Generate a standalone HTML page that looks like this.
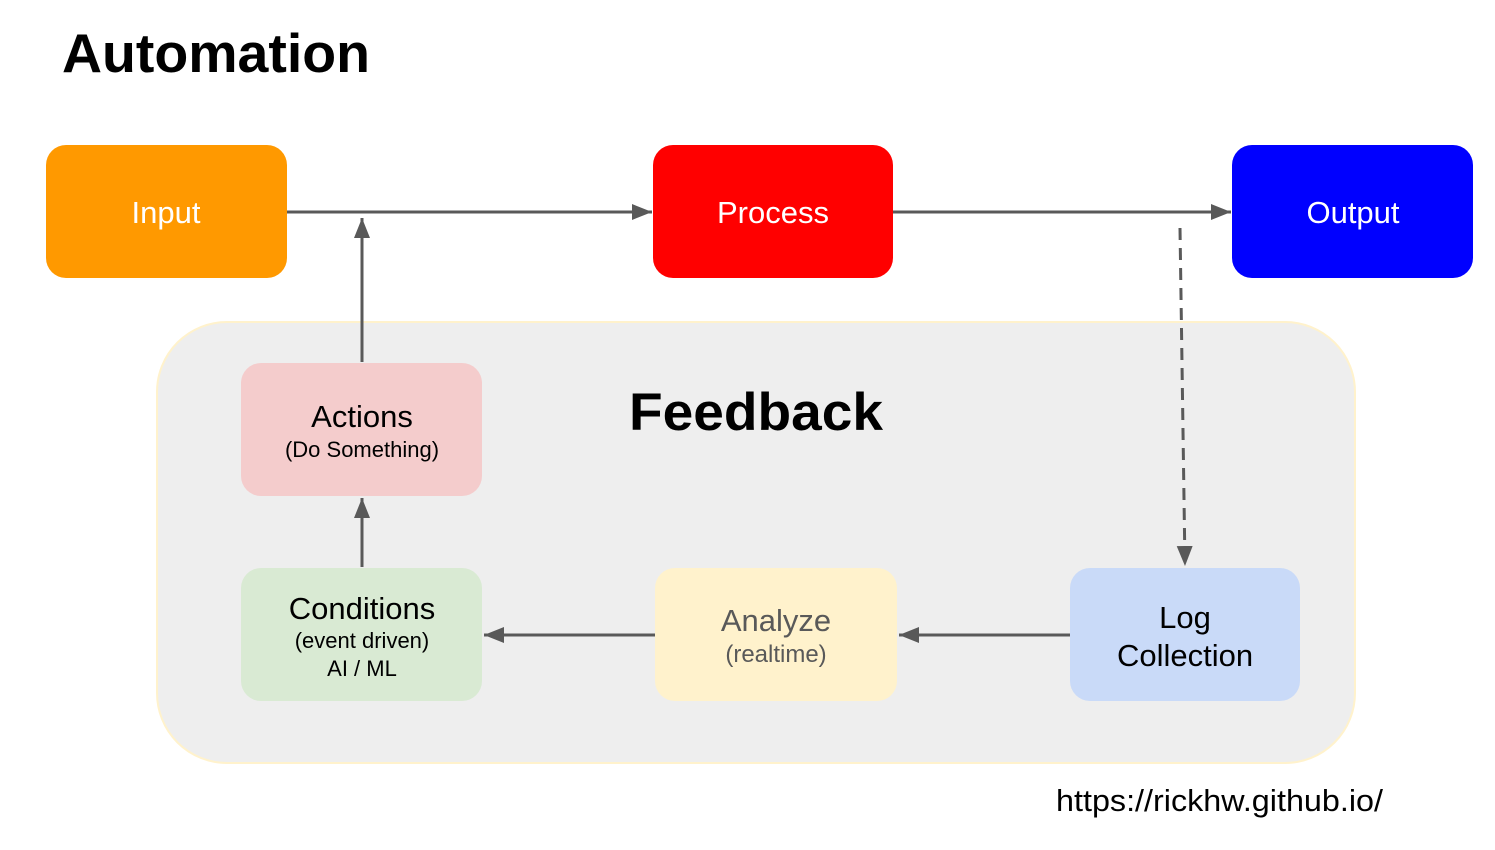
<!DOCTYPE html>
<html><head><style>body{margin:0;background:#fff}</style></head><body>
<svg width="1495" height="845" xmlns="http://www.w3.org/2000/svg" font-family="Liberation Sans, Arial, sans-serif">
<defs>
<marker id="b" viewBox="0 0 10 10" refX="10" refY="5" markerWidth="20" markerHeight="16" orient="auto" markerUnits="userSpaceOnUse" preserveAspectRatio="none"><path d="M0,0L10,5L0,10z" fill="#595959"/></marker></defs>
<text x="62" y="72" font-size="55" font-weight="bold" textLength="308" lengthAdjust="spacingAndGlyphs">Automation</text>
<rect x="157" y="322" width="1198" height="441" rx="70" fill="#eeeeee" stroke="#fff2cc" stroke-width="2"/>
<rect x="46" y="145" width="241" height="133" rx="20" fill="#ff9900"/>
<rect x="653" y="145" width="240" height="133" rx="20" fill="#ff0000"/>
<rect x="1232" y="145" width="241" height="133" rx="20" fill="#0000ff"/>
<text x="166" y="223" font-size="31" fill="#fff" text-anchor="middle">Input</text>
<text x="773" y="223" font-size="31" fill="#fff" text-anchor="middle">Process</text>
<text x="1353" y="223" font-size="31" fill="#fff" text-anchor="middle">Output</text>
<rect x="241" y="363" width="241" height="133" rx="20" fill="#f4cccc"/>
<rect x="241" y="568" width="241" height="133" rx="20" fill="#d9ead3"/>
<rect x="655" y="568" width="242" height="133" rx="20" fill="#fff2cc"/>
<rect x="1070" y="568" width="230" height="133" rx="20" fill="#c9daf8"/>
<text x="629" y="430" font-size="53" font-weight="bold" textLength="254" lengthAdjust="spacingAndGlyphs">Feedback</text>
<text x="362" y="427" font-size="31" text-anchor="middle">Actions</text>
<text x="362" y="457" font-size="22" text-anchor="middle">(Do Something)</text>
<text x="362" y="619" font-size="31" text-anchor="middle">Conditions</text>
<text x="362" y="648" font-size="22" text-anchor="middle">(event driven)</text>
<text x="362" y="676" font-size="22" text-anchor="middle">AI / ML</text>
<text x="776" y="631" font-size="31" fill="#595959" text-anchor="middle">Analyze</text>
<text x="776" y="662" font-size="24" fill="#595959" text-anchor="middle">(realtime)</text>
<text x="1185" y="628" font-size="31" text-anchor="middle">Log</text>
<text x="1185" y="666" font-size="31" text-anchor="middle">Collection</text>
<g stroke="#595959" stroke-width="3" fill="none">
<line x1="287" y1="212" x2="652" y2="212" marker-end="url(#b)"/>
<line x1="893" y1="212" x2="1231" y2="212" marker-end="url(#b)"/>
<line x1="362" y1="362" x2="362" y2="218" marker-end="url(#b)"/>
<line x1="362" y1="567" x2="362" y2="498" marker-end="url(#b)"/>
<line x1="655" y1="635" x2="484" y2="635" marker-end="url(#b)"/>
<line x1="1070" y1="635" x2="899" y2="635" marker-end="url(#b)"/>
<line x1="1180" y1="228" x2="1185" y2="566" stroke-dasharray="12,8" marker-end="url(#b)"/>
</g>
<text x="1056" y="811" font-size="31" textLength="327" lengthAdjust="spacingAndGlyphs">https://rickhw.github.io/</text>
</svg>
</body></html>
